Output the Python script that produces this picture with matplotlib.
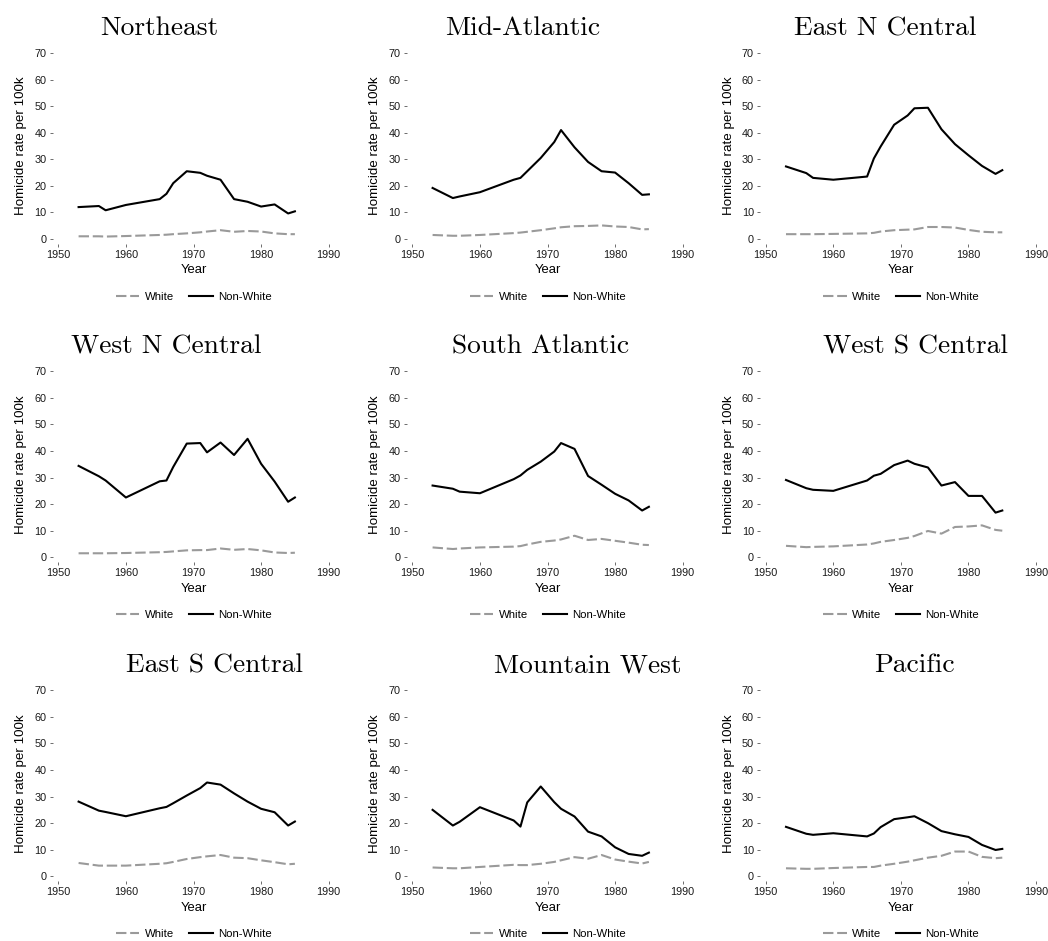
import numpy as np
import matplotlib
matplotlib.use('Agg')
import matplotlib.pyplot as plt

# ---- data ------------------------------------------------------------------
years = [1953, 1956, 1957, 1960, 1965, 1966, 1967, 1969, 1971, 1972,
         1974, 1976, 1978, 1980, 1982, 1984, 1985]

regions = ['Northeast', 'Mid-Atlantic', 'East N Central',
           'West N Central', 'South Atlantic', 'West S Central',
           'East S Central', 'Mountain West', 'Pacific']

nonwhite = [
    [12.0, 12.4, 10.8, 12.8, 15.0, 17.0, 21.0, 25.5, 24.9, 23.8, 22.3, 15.0, 14.0, 12.2, 13.0, 9.6, 10.4],
    [19.2, 15.4, 16.0, 17.6, 22.3, 23.0, 25.5, 30.5, 36.5, 41.0, 34.5, 29.0, 25.5, 25.0, 21.0, 16.6, 16.8],
    [27.3, 24.8, 23.0, 22.3, 23.5, 30.3, 34.8, 43.0, 46.5, 49.2, 49.4, 41.3, 35.7, 31.5, 27.5, 24.5, 25.9],
    [34.4, 30.5, 28.9, 22.5, 28.6, 28.9, 34.0, 42.8, 43.0, 39.5, 43.2, 38.5, 44.6, 35.2, 28.5, 20.9, 22.5],
    [27.0, 25.8, 24.7, 24.1, 29.4, 30.8, 32.9, 36.0, 39.8, 43.0, 40.8, 30.6, 27.3, 23.9, 21.4, 17.6, 19.0],
    [29.1, 26.0, 25.4, 25.0, 28.9, 30.7, 31.4, 34.7, 36.4, 35.2, 33.8, 27.0, 28.3, 23.1, 23.1, 16.8, 17.6],
    [28.1, 24.7, 24.2, 22.6, 25.6, 26.1, 27.5, 30.4, 33.2, 35.3, 34.5, 31.2, 28.1, 25.4, 24.1, 19.1, 20.6],
    [25.0, 19.1, 20.5, 26.0, 21.0, 18.7, 27.8, 33.8, 27.9, 25.4, 22.5, 16.8, 15.0, 10.9, 8.4, 7.7, 8.9],
    [18.6, 16.0, 15.6, 16.2, 15.0, 16.1, 18.5, 21.5, 22.2, 22.6, 20.0, 17.0, 15.8, 14.8, 11.8, 9.9, 10.3],
]

white = [
    [1.0, 1.0, 0.9, 1.1, 1.5, 1.6, 1.8, 2.1, 2.5, 2.8, 3.3, 2.7, 3.0, 2.8, 2.1, 1.8, 1.8],
    [1.5, 1.2, 1.2, 1.5, 2.2, 2.4, 2.7, 3.3, 4.0, 4.4, 4.8, 4.9, 5.1, 4.7, 4.5, 3.6, 3.7],
    [1.8, 1.8, 1.8, 1.9, 2.1, 2.3, 2.8, 3.3, 3.5, 3.6, 4.5, 4.5, 4.3, 3.4, 2.7, 2.5, 2.5],
    [1.5, 1.5, 1.5, 1.6, 1.9, 2.0, 2.2, 2.6, 2.7, 2.7, 3.3, 2.8, 3.1, 2.6, 1.8, 1.6, 1.7],
    [3.7, 3.1, 3.3, 3.7, 4.0, 4.2, 4.8, 5.8, 6.3, 6.7, 8.1, 6.5, 6.9, 6.2, 5.5, 4.7, 4.6],
    [4.3, 3.8, 3.9, 4.1, 4.8, 5.2, 5.8, 6.5, 7.3, 8.0, 9.9, 8.9, 11.4, 11.6, 12.0, 10.3, 10.0],
    [5.0, 4.0, 4.0, 4.0, 4.7, 4.9, 5.4, 6.5, 7.2, 7.5, 8.0, 7.0, 6.8, 6.0, 5.3, 4.5, 4.7],
    [3.3, 3.0, 3.0, 3.5, 4.3, 4.2, 4.2, 4.7, 5.4, 6.0, 7.2, 6.6, 8.0, 6.3, 5.5, 4.8, 5.4],
    [3.0, 2.8, 2.8, 3.1, 3.5, 3.5, 4.0, 4.7, 5.5, 6.0, 7.0, 7.7, 9.3, 9.3, 7.3, 6.8, 7.0],
]

xticks = [1950, 1960, 1970, 1980, 1990]
yticks = [0, 10, 20, 30, 40, 50, 60, 70]

# ---- layout (pixels of a 1048 x 941 canvas) --------------------------------
W, H = 1048, 941
col_left = [52.5, 406.5, 759.9]
row_bottom = [244.0, 562.3, 881.3]
panel_w, panel_h = 282.0, 196.0
# title centres / baselines as they sit in the reference
title_x = [159, 523, 885, 166, 541, 915, 214, 588, 914]
title_y = [35, 354, 672.5]

plt.rcParams['font.family'] = ['Liberation Sans', 'DejaVu Sans']

fig = plt.figure(figsize=(W / 100, H / 100), dpi=100)

for k, name in enumerate(regions):
    r, c = divmod(k, 3)
    ax = fig.add_axes([col_left[c] / W, 1 - row_bottom[r] / H,
                       panel_w / W, panel_h / H])
    ax.plot(years, white[k], color='#9a9a9a', lw=1.5,
            linestyle=(0, (5.0, 1.8)), label='White')
    ax.plot(years, nonwhite[k], color='black', lw=1.5, label='Non-White')

    ax.set_xlim(1949.14, 1990.86)
    ax.set_ylim(-1.9, 71.9)
    ax.set_xticks(xticks)
    ax.set_yticks(yticks)
    for s in ax.spines.values():
        s.set_visible(False)
    ax.tick_params(length=2.4, width=0.6, color='#555555',
                   labelsize=7.8, pad=2, labelcolor='#1a1a1a')
    ax.set_xlabel('Year', fontsize=9.4, labelpad=3)
    ax.set_ylabel('Homicide rate per 100k', fontsize=9.6, labelpad=5)
    ax.legend(loc='center', bbox_to_anchor=(0.5, -0.27), ncol=2,
              frameon=False, fontsize=8.2, handlelength=2.1,
              handletextpad=0.45, columnspacing=1.3)

    fig.text(title_x[k] / W, 1 - title_y[r] / H, name, family='cmr10',
             fontsize=19.8, ha='center', va='baseline')

fig.savefig('out.png', dpi=100)
